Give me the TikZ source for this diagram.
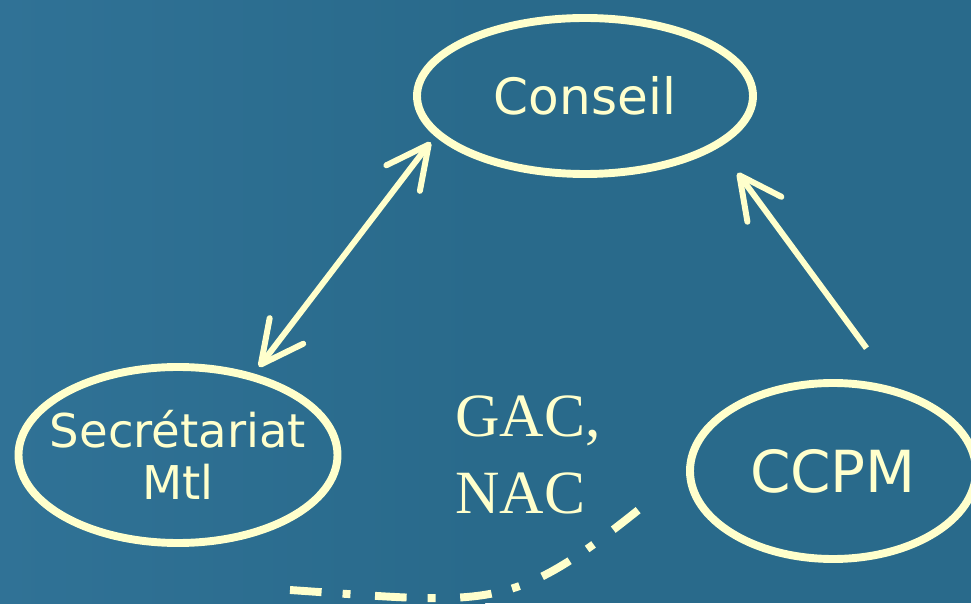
\documentclass[tikz,border=0pt]{standalone}
\usepackage{fontspec}
\usepackage{tikz}
\usetikzlibrary{shapes.geometric}
\usetikzlibrary{arrows.meta}
\newfontfamily\bubblefont{DejaVu Sans}
\newfontfamily\groupfont{Liberation Serif}
\definecolor{cream}{RGB}{255,255,204}
\definecolor{slidebg}{RGB}{41,106,139}
\definecolor{slideleft}{RGB}{48,114,150}
\tikzstyle{bubble}=[ellipse, draw=cream, line width=4.5pt, inner sep=0pt, text=cream, align=center]
\tikzstyle{link}=[draw=cream, line width=3.4pt, -{Straight Barb[length=24pt,width=24pt,round]}]
\tikzstyle{dlink}=[link, {Straight Barb[length=24pt,width=24pt,round]}-{Straight Barb[length=24pt,width=24pt,round]}]
\tikzstyle{dashdot}=[draw=cream, line width=4.5pt, dash pattern=on 18pt off 12pt on 4.5pt off 14pt]

\begin{document}
\begin{tikzpicture}
        \shade[left color=slideleft, right color=slidebg] (0, 0) rectangle (9.7, 12.06);
        \fill[slidebg] (9.7, 0) rectangle (19.42, 12.06);
        \useasboundingbox (0, 0) rectangle (19.42, 12.06);
        \node[bubble, minimum width=6.72cm, minimum height=3.12cm,
              font=\bubblefont\fontsize{28.5}{34}\selectfont] (cons) at (11.70, 10.14) {Conseil};
        \node[bubble, minimum width=6.38cm, minimum height=3.52cm, inner xsep=-0.8cm,
              font=\bubblefont\fontsize{26.5}{29.6}\selectfont] (sec) at (3.56, 2.96) {Secrétariat\\Mtl};
        \node[bubble, minimum width=5.72cm, minimum height=3.52cm,
              font=\bubblefont\fontsize{33}{38}\selectfont] (ccpm) at (16.66, 2.64) {CCPM};
        \node[text=cream, inner sep=0pt, anchor=west, align=left,
              font=\groupfont\fontsize{35}{43.8}\selectfont] (gac) at (9.10, 2.96) {GAC,\\NAC};
        % arrows between the bodies
        \draw[dlink, shorten <=4.8pt, shorten >=4.3pt] (sec.47) -- (cons.195);
        \draw[link, shorten <=28pt, shorten >=18pt] (ccpm.53) -- (cons.-21);
        % dash-dot link under the groups
        \draw[dashdot] (5.80, 0.26) .. controls (9.92, -0.02) and (10.22, -0.20) .. (12.94, 2.00);
    \end{tikzpicture}
\end{document}
